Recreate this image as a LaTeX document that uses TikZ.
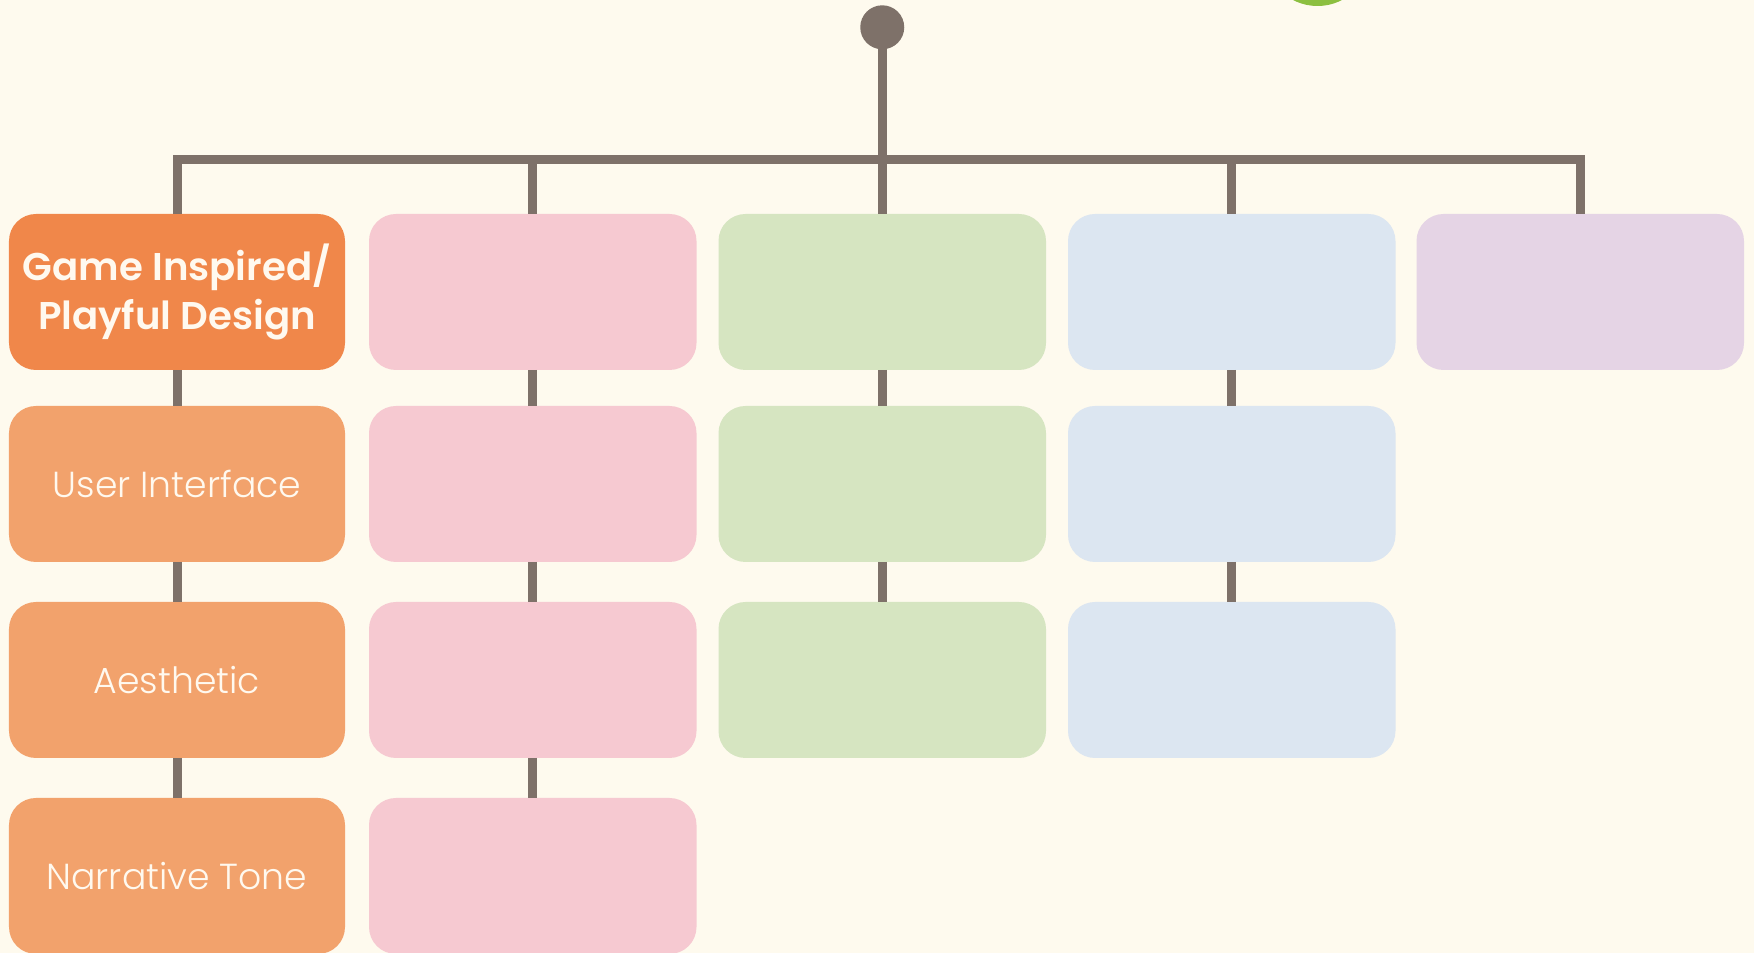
\documentclass[tikz,border=0pt]{standalone}
\usepackage{fontspec}
\setmainfont{Poppins}
\newfontfamily\thinfont{Poppins Light}
\newfontfamily\semifont{Poppins SemiBold}
\usetikzlibrary{positioning}

\definecolor{bgc}{HTML}{FEFAEE}
\definecolor{linec}{HTML}{7E7169}
\definecolor{orangedark}{HTML}{F0874A}
\definecolor{orangelight}{HTML}{F2A26C}
\definecolor{pinkc}{HTML}{F6C9D1}
\definecolor{greenc}{HTML}{D6E5C1}
\definecolor{bluec}{HTML}{DCE6F1}
\definecolor{purplec}{HTML}{E5D4E5}
\definecolor{ballc}{HTML}{8CBF40}
\definecolor{textc}{HTML}{FFF9EF}

\begin{document}
\begin{tikzpicture}[node distance=0.40cm,
    box/.style={rectangle, rounded corners=0.27cm, minimum width=3.275cm, minimum height=1.56cm, inner sep=2pt, outer sep=0pt, align=center, text=textc, font=\thinfont\fontsize{10.3}{13}\selectfont},
    wide/.style={box, minimum width=3.36cm},
    link/.style={draw=linec, line width=0.09cm}]
    \fill[bgc] (0,0) rectangle (17.54,-9.53);
    \useasboundingbox (0,0) rectangle (17.54,-9.53);

    % first column
    \node [wide, fill=orangedark, anchor=north west, font=\semifont\fontsize{11}{13.8}\selectfont] (gi) at (0.09,-2.14) {Game Inspired/\\Playful Design};
    \node [wide, fill=orangelight, below=0.36cm of gi] (ui) {User Interface};
    \node [wide, fill=orangelight, below=of ui] (ae) {Aesthetic};
    \node [wide, fill=orangelight, below=of ae] (nt) {Narrative Tone};

    % second column
    \node [box, fill=pinkc, right=0.24cm of gi] (p1) {};
    \node [box, fill=pinkc, right=0.24cm of ui] (p2) {};
    \node [box, fill=pinkc, right=0.24cm of ae] (p3) {};
    \node [box, fill=pinkc, right=0.24cm of nt] (p4) {};

    % third column
    \node [box, fill=greenc, right=0.22cm of p1] (g1) {};
    \node [box, fill=greenc, right=0.22cm of p2] (g2) {};
    \node [box, fill=greenc, right=0.22cm of p3] (g3) {};

    % fourth column
    \node [box, fill=bluec, right=0.22cm of g1] (b1) {};
    \node [box, fill=bluec, right=0.22cm of g2] (b2) {};
    \node [box, fill=bluec, right=0.22cm of g3] (b3) {};

    % fifth column
    \node [box, fill=purplec, right=0.21cm of b1] (v1) {};

    % root and tree
    \node [circle, fill=linec, minimum size=0.44cm, inner sep=0pt, above=1.64cm of g1] (root) {};
    \node [circle, fill=ballc, minimum size=1.06cm, inner sep=0pt] (ball) at (13.175,0.47) {};
    \coordinate (bar) at (0,-1.595);

    \draw[link] (root.center) -- (g1.north);
    \draw[link] (gi.north) -- (gi.north |- bar) -- (v1.north |- bar) -- (v1.north);
    \draw[link] (p1.north) -- (p1.north |- bar);
    \draw[link] (b1.north) -- (b1.north |- bar);

    \draw[link] (gi) -- (ui);
    \draw[link] (ui) -- (ae);
    \draw[link] (ae) -- (nt);
    \draw[link] (p1) -- (p2);
    \draw[link] (p2) -- (p3);
    \draw[link] (p3) -- (p4);
    \draw[link] (g1) -- (g2);
    \draw[link] (g2) -- (g3);
    \draw[link] (b1) -- (b2);
    \draw[link] (b2) -- (b3);
\end{tikzpicture}
\end{document}
